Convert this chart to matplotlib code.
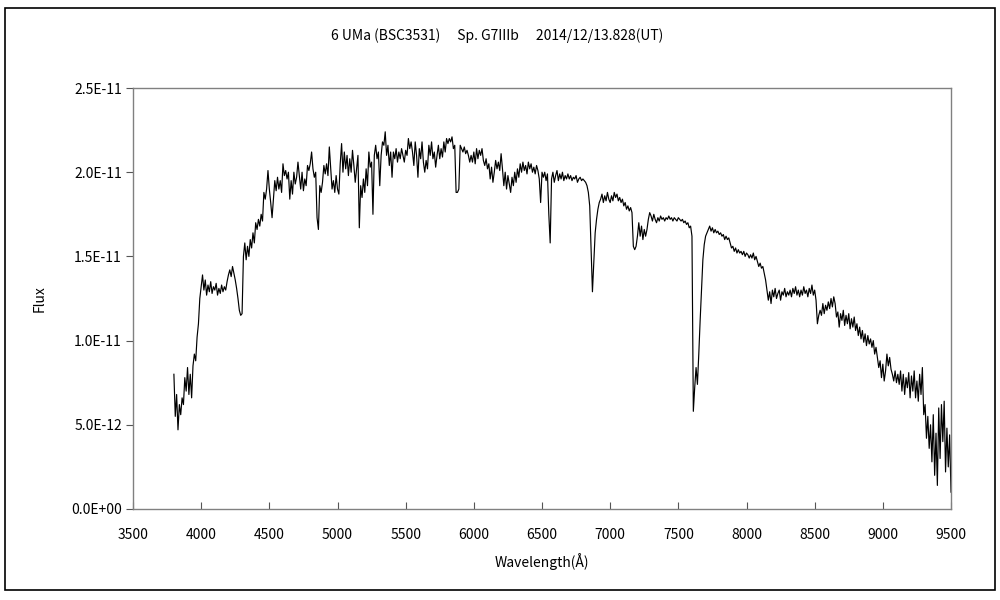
import numpy as np
import matplotlib
matplotlib.use("Agg")
import matplotlib.pyplot as plt
from matplotlib.patches import Rectangle

plt.rcParams['font.family'] = ['Noto Sans CJK JP', 'DejaVu Sans']

title = "6 UMa (BSC3531)\u3000 Sp. G7IIIb\u3000 2014/12/13.828(UT)"
x_label = "Wavelength(\u00c5)"
y_label = "Flux"

# wavelength sampling (Angstrom)
wl_start = 3800
wl_step = 10

# flux in units of 1e-11, one value per 10 A from 3800 to 9500
flux_3800 = [0.80, 0.55, 0.68, 0.47, 0.62, 0.56, 0.66, 0.62, 0.78, 0.70,
             0.84, 0.68, 0.80, 0.66, 0.85, 0.92, 0.88, 1.02, 1.10, 1.25]
flux_4000 = [1.32, 1.39, 1.30, 1.36, 1.27, 1.33, 1.29, 1.35, 1.28, 1.32,
             1.30, 1.34, 1.27, 1.31, 1.28, 1.33, 1.29, 1.32, 1.30, 1.35,
             1.39, 1.42, 1.38, 1.44, 1.40, 1.36, 1.31, 1.25, 1.18, 1.15,
             1.16, 1.50, 1.58, 1.48, 1.56, 1.50, 1.60, 1.55, 1.64, 1.58,
             1.70, 1.66, 1.72, 1.68, 1.75, 1.71, 1.88, 1.84, 1.90, 2.01,
             1.90, 1.82, 1.73, 1.84, 1.95, 1.89, 1.97, 1.90, 1.95, 1.88,
             2.05, 1.98, 2.01, 1.96, 2.00, 1.84, 1.95, 1.87, 2.00, 1.93,
             1.97, 2.06, 1.98, 1.90, 2.00, 1.89, 1.96, 1.92, 2.04, 2.01,
             2.05, 2.12, 2.02, 1.97, 2.00, 1.73, 1.66, 1.92, 1.88, 1.94,
             2.04, 1.99, 2.05, 1.98, 2.15, 2.02, 1.90, 1.95, 1.88, 1.98]
flux_5000 = [1.90, 1.87, 2.05, 2.17, 2.00, 2.12, 2.02, 2.10, 1.98, 2.08,
             2.00, 2.13, 2.04, 1.94, 2.02, 2.10, 1.67, 1.92, 1.85, 1.96,
             1.88, 2.02, 1.92, 2.12, 2.03, 2.06, 1.75, 2.10, 2.16, 2.08,
             2.12, 1.92, 2.10, 2.18, 2.16, 2.24, 2.10, 2.16, 2.04, 2.12,
             1.97, 2.12, 2.08, 2.14, 2.06, 2.12, 2.08, 2.14, 2.10, 2.06,
             2.13, 2.10, 2.20, 2.14, 2.18, 2.12, 2.04, 2.18, 2.10, 1.97,
             2.14, 2.08, 2.18, 2.06, 2.00, 2.07, 2.02, 2.16, 2.10, 2.18,
             2.08, 2.12, 2.03, 2.10, 2.16, 2.08, 2.14, 2.09, 2.18, 2.12,
             2.20, 2.17, 2.20, 2.18, 2.21, 2.14, 2.16, 1.88, 1.88, 1.90,
             2.16, 2.14, 2.12, 2.15, 2.11, 2.13, 2.10, 2.06, 2.10, 2.06]
flux_6000 = [2.12, 2.05, 2.14, 2.08, 2.13, 2.10, 2.14, 2.07, 2.04, 2.08,
             2.02, 2.05, 1.96, 2.03, 1.94, 2.00, 2.07, 2.02, 2.06, 2.01,
             2.11, 2.02, 1.92, 2.00, 1.90, 1.98, 1.93, 1.88, 1.97, 1.92,
             2.00, 1.94, 2.02, 1.97, 2.05, 2.00, 2.06, 2.01, 2.04, 1.99,
             2.06, 2.02, 2.05, 2.00, 2.03, 1.99, 2.04, 2.01, 1.96, 1.82,
             2.00, 1.97, 2.00, 1.95, 1.99, 1.75, 1.58, 1.96, 2.00, 1.94,
             1.98, 2.01, 1.95, 1.99, 1.96, 2.00, 1.95, 1.98, 1.96, 1.99,
             1.96, 1.98, 1.95, 1.97, 1.96, 1.98, 1.94, 1.96, 1.97, 1.95,
             1.96, 1.95, 1.94, 1.92, 1.88, 1.80, 1.54, 1.29, 1.46, 1.64,
             1.72, 1.78, 1.82, 1.84, 1.87, 1.82, 1.86, 1.83, 1.88, 1.84]
flux_7000 = [1.82, 1.86, 1.83, 1.88, 1.85, 1.87, 1.83, 1.85, 1.82, 1.84,
             1.80, 1.82, 1.78, 1.80, 1.77, 1.79, 1.76, 1.56, 1.54, 1.56,
             1.62, 1.70, 1.62, 1.68, 1.60, 1.66, 1.62, 1.66, 1.72, 1.76,
             1.74, 1.71, 1.75, 1.72, 1.70, 1.73, 1.71, 1.74, 1.72, 1.73,
             1.71, 1.73, 1.72, 1.74, 1.72, 1.73, 1.71, 1.73, 1.72, 1.71,
             1.73, 1.72, 1.71, 1.72, 1.70, 1.71, 1.69, 1.70, 1.67, 1.68,
             1.62, 0.58, 0.72, 0.84, 0.74, 0.92, 1.12, 1.30, 1.48, 1.57,
             1.62, 1.64, 1.66, 1.68, 1.65, 1.67, 1.64, 1.66, 1.64, 1.65,
             1.63, 1.64, 1.62, 1.63, 1.60, 1.62, 1.60, 1.61, 1.58, 1.55,
             1.56, 1.53, 1.55, 1.52, 1.54, 1.52, 1.53, 1.51, 1.53, 1.50]
flux_8000 = [1.52, 1.51, 1.49, 1.51, 1.49, 1.52, 1.48, 1.50, 1.47, 1.44,
             1.46, 1.43, 1.44, 1.40, 1.36, 1.30, 1.24, 1.29, 1.22, 1.30,
             1.26, 1.31, 1.25, 1.28, 1.30, 1.24, 1.29, 1.27, 1.31, 1.26,
             1.29, 1.27, 1.30, 1.26, 1.31, 1.28, 1.32, 1.27, 1.30, 1.26,
             1.30, 1.27, 1.32, 1.28, 1.30, 1.26, 1.31, 1.28, 1.33, 1.27,
             1.30, 1.24, 1.10, 1.15, 1.18, 1.15, 1.22, 1.16, 1.21, 1.18,
             1.23, 1.19, 1.25, 1.20, 1.26, 1.22, 1.14, 1.17, 1.08, 1.16,
             1.12, 1.18, 1.09, 1.15, 1.10, 1.16, 1.07, 1.13, 1.08, 1.14,
             1.06, 1.10, 1.03, 1.08, 1.01, 1.06, 0.99, 1.04, 0.97, 1.03,
             0.98, 1.01, 0.96, 1.00, 0.92, 0.96, 0.90, 0.84, 0.88, 0.78]
flux_9000 = [0.86, 0.76, 0.82, 0.92, 0.85, 0.90, 0.83, 0.80, 0.76, 0.82,
             0.75, 0.80, 0.74, 0.82, 0.70, 0.80, 0.68, 0.78, 0.72, 0.81,
             0.66, 0.79, 0.70, 0.82, 0.66, 0.76, 0.64, 0.80, 0.68, 0.84,
             0.56, 0.62, 0.42, 0.55, 0.36, 0.50, 0.28, 0.56, 0.20, 0.45,
             0.14, 0.60, 0.30, 0.62, 0.40, 0.64, 0.22, 0.48, 0.25, 0.44,
             0.10]

flux = np.array(flux_3800 + flux_4000 + flux_5000 + flux_6000 +
                flux_7000 + flux_8000 + flux_9000) * 1e-11
wavelength = wl_start + wl_step * np.arange(len(flux))

x_ticks = [3500, 4000, 4500, 5000, 5500, 6000, 6500, 7000, 7500, 8000, 8500, 9000, 9500]
y_ticks = [0.0, 5e-12, 1e-11, 1.5e-11, 2e-11, 2.5e-11]
y_tick_labels = ["0.0E+00", "5.0E-12", "1.0E-11", "1.5E-11", "2.0E-11", "2.5E-11"]

fig = plt.figure(figsize=(10, 6), dpi=100)
ax = fig.add_axes([0.133, 0.1517, 0.818, 0.7016])

ax.plot(wavelength, flux, color='black', linewidth=0.85)

ax.set_xlim(3500, 9500)
ax.set_ylim(0, 2.5e-11)
ax.set_xticks(x_ticks)
ax.set_xticklabels([str(t) for t in x_ticks])
ax.set_yticks(y_ticks)
ax.set_yticklabels(y_tick_labels)

ax.tick_params(axis='x', direction='in', length=5, width=0.8, color='#555555',
               labelsize=10, pad=14)
ax.tick_params(axis='y', direction='out', length=5, width=0.8, color='#555555',
               labelsize=10, pad=3)
for s in ax.spines.values():
    s.set_color('#808080')
    s.set_linewidth(1.0)

ax.set_xlabel(x_label, fontsize=10, labelpad=8)
ax.set_ylabel(y_label, fontsize=10, labelpad=18)
fig.text(0.497, 0.94, title, ha='center', va='center', fontsize=10)

fig.patches.append(Rectangle((0.005, 0.017), 0.99, 0.97, transform=fig.transFigure,
                             fill=False, edgecolor='black', linewidth=1.2))

fig.savefig("out.png", dpi=100)
